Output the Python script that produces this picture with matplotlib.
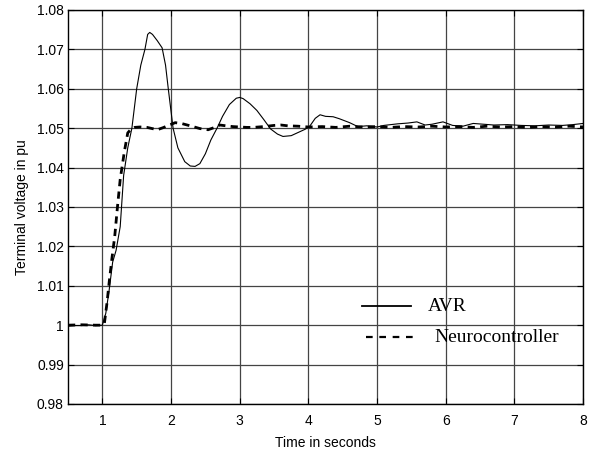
import matplotlib
matplotlib.use("Agg")
import matplotlib.pyplot as plt

t_avr = [0.5, 0.6, 0.7, 0.8, 0.9, 1.0, 1.05, 1.1, 1.15, 1.2, 1.26, 1.31, 1.37, 1.43, 1.5, 1.56,
         1.62, 1.66, 1.69, 1.73, 1.8, 1.87, 1.92, 1.96, 2.03, 2.1, 2.2, 2.28, 2.35, 2.42, 2.5,
         2.58, 2.67, 2.75, 2.85, 2.95, 3.0, 3.05, 3.15, 3.25, 3.35, 3.45, 3.55, 3.63, 3.75, 3.85,
         3.95, 4.02, 4.1, 4.17, 4.25, 4.36, 4.45, 4.6, 4.72, 4.85, 5.0, 5.1, 5.3, 5.45, 5.58, 5.7,
         5.8, 5.96, 6.1, 6.25, 6.4, 6.55, 6.7, 6.9, 7.1, 7.3, 7.5, 7.7, 7.85, 8.0]
v_avr = [0.9998, 0.9999, 0.9999, 1.0001, 0.9999, 1.0, 1.003, 1.009, 1.016, 1.019, 1.025, 1.038,
         1.045, 1.05, 1.06, 1.066, 1.07, 1.0738, 1.0743, 1.0738, 1.0722, 1.0704, 1.066, 1.06,
         1.05, 1.045, 1.0415, 1.0404, 1.0403, 1.041, 1.0435, 1.047, 1.05, 1.053, 1.056, 1.0576,
         1.0578, 1.0575, 1.0562, 1.0545, 1.0522, 1.0498, 1.0485, 1.0479, 1.0481, 1.0489, 1.0497,
         1.0505, 1.0525, 1.0534, 1.053, 1.0529, 1.0524, 1.0514, 1.0504, 1.0506, 1.0503, 1.0507,
         1.0511, 1.0513, 1.0516, 1.0508, 1.051, 1.0516, 1.0507, 1.0505, 1.0512, 1.051, 1.0508,
         1.0509, 1.0507, 1.0506, 1.0508, 1.0507, 1.0509, 1.0512]

t_nc = [0.5, 0.7, 0.9, 1.0, 1.03, 1.07, 1.1, 1.14, 1.18, 1.22, 1.26, 1.32, 1.37, 1.42, 1.47, 1.55,
        1.65, 1.75, 1.8, 1.88, 1.95, 2.06, 2.15, 2.3, 2.42, 2.54, 2.62, 2.71, 2.8, 2.9, 3.0, 3.1,
        3.2, 3.35, 3.5, 3.6, 3.7, 3.85, 4.0, 4.2, 4.4, 4.6, 4.8, 5.0, 5.2, 5.4, 5.6, 5.8, 6.0,
        6.2, 6.4, 6.6, 6.8, 7.0, 7.2, 7.4, 7.6, 7.8, 8.0]
v_nc = [1.0, 1.0001, 1.0, 1.0, 1.0005, 1.006, 1.011, 1.017, 1.0225, 1.03, 1.037, 1.044, 1.0488,
        1.0498, 1.0502, 1.0503, 1.0502, 1.0498, 1.0496, 1.0501, 1.0506, 1.0514, 1.0512, 1.0505,
        1.0499, 1.0496, 1.0501, 1.0508, 1.0506, 1.0504, 1.0503, 1.0502, 1.0502, 1.0504, 1.0507,
        1.0508, 1.0506, 1.0505, 1.0503, 1.0504, 1.0502, 1.0505, 1.0503, 1.0504, 1.0502, 1.0504,
        1.0503, 1.0505, 1.0503, 1.0504, 1.0502, 1.0505, 1.0503, 1.0504, 1.0502, 1.0504, 1.0503,
        1.0505, 1.0503]

x_ticks = [1, 2, 3, 4, 5, 6, 7, 8]
y_ticks = [0.98, 0.99, 1.0, 1.01, 1.02, 1.03, 1.04, 1.05, 1.06, 1.07, 1.08]
y_labels = ["0.98", "0.99", "1", "1.01", "1.02", "1.03", "1.04", "1.05", "1.06", "1.07", "1.08"]

plt.rcParams['font.family'] = ['Liberation Sans', 'DejaVu Sans']
fig = plt.figure(figsize=(5.95, 4.53), dpi=100)
ax = fig.add_axes([0.1143, 0.1082, 0.8657, 0.8698])

ax.plot(t_avr, v_avr, color='black', lw=0.8)
ax.plot(t_nc, v_nc, color='black', lw=2.0, dashes=(2.6, 1.9))

ax.set_xlim(0.5, 8)
ax.set_ylim(0.98, 1.08)
ax.set_xticks(x_ticks)
ax.set_yticks(y_ticks)
ax.set_yticklabels(y_labels)
ax.grid(True, color='#444444', lw=0.9)
ax.set_axisbelow(True)
ax.tick_params(direction='in', length=4, labelsize=10, top=True, right=True, width=0.8)
ax.tick_params(axis='x', pad=7)
ax.tick_params(axis='y', pad=3)
for s in ax.spines.values():
    s.set_linewidth(1.0)

ax.set_xlabel("Time in seconds", fontsize=10, labelpad=6)
ax.set_ylabel("Terminal voltage in pu", fontsize=10, labelpad=6)

# legend drawn manually in data coords
ax.plot([4.78, 5.49], [1.0048, 1.0048], color='black', lw=1.3)
ax.text(5.74, 1.0048, "AVR", family='Liberation Serif', fontsize=14, va='center')
ax.plot([4.84, 5.55], [0.99697, 0.99697], color='black', lw=1.6, dashes=(3.0, 3.0))
ax.text(5.83, 0.99697, "Neurocontroller", family='Liberation Serif', fontsize=14, va='center')

fig.savefig("out.png", dpi=100)
